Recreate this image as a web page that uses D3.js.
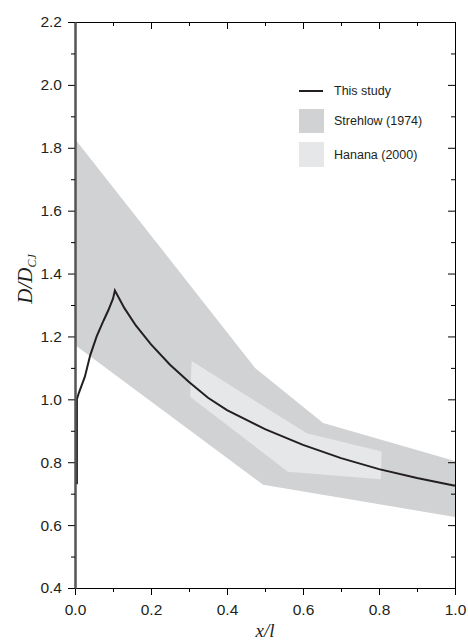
<!DOCTYPE html>
<html>
<head>
<meta charset="utf-8">
<script src="https://cdn.jsdelivr.net/npm/d3@7"></script>
<style>
  body { margin: 0; background: #fff; overflow: hidden; }
  svg { display: block; }
  text { font-family: "Liberation Sans", Arial, sans-serif; }
</style>
</head>
<body>
<svg id="drawing_region"></svg>
<script>
var width = 468;
var height = 641;
var margin = {top: 22, right: 13, bottom: 53, left: 75};

// data
const studyX = [0.005, 0.005, 0.01, 0.026, 0.04, 0.057, 0.075, 0.088, 0.1, 0.105, 0.13, 0.16, 0.2, 0.25, 0.3, 0.35, 0.4, 0.5, 0.6, 0.7, 0.8, 0.9, 1.0];
const studyY = [0.73, 1.0, 1.02, 1.072, 1.14, 1.2, 1.25, 1.284, 1.32, 1.346, 1.29, 1.235, 1.175, 1.11, 1.055, 1.005, 0.966, 0.905, 0.855, 0.813, 0.778, 0.75, 0.725];

const strehlowX = [0, 0.474, 0.653, 1.0, 1.0, 0.495, 0];
const strehlowY = [1.828, 1.10, 0.925, 0.804, 0.626, 0.728, 1.173];

const hananaX = [0.307, 0.61, 0.807, 0.805, 0.56, 0.303];
const hananaY = [1.122, 0.892, 0.834, 0.746, 0.77, 1.008];

const legendLabels = ['This study', 'Strehlow (1974)', 'Hanana (2000)'];
const xTicks = [0, 0.2, 0.4, 0.6, 0.8, 1.0];
const yTicks = [0.4, 0.6, 0.8, 1.0, 1.2, 1.4, 1.6, 1.8, 2.0, 2.2];
const minorX = [0.1, 0.3, 0.5, 0.7, 0.9];
const minorY = [0.5, 0.7, 0.9, 1.1, 1.3, 1.5, 1.7, 1.9, 2.1];

var svg = d3.select('#drawing_region')
      .attr('width', width)
      .attr('height', height);

var chart = svg.append('g')
      .attr('transform', `translate(${margin.left}, ${margin.top})`);

const innerWidth = width - margin.left - margin.right;
const innerHeight = height - margin.top - margin.bottom;

const xs = d3.scaleLinear().domain([0, 1]).range([0, innerWidth]);
const ys = d3.scaleLinear().domain([0.4, 2.2]).range([innerHeight, 0]);

const line = d3.line().x(d => xs(d[0])).y(d => ys(d[1]));

chart.append('path')
      .attr('d', line(strehlowX.map((x, i) => [x, strehlowY[i]])) + 'Z')
      .attr('fill', '#d1d2d4');

chart.append('path')
      .attr('d', line(hananaX.map((x, i) => [x, hananaY[i]])) + 'Z')
      .attr('fill', '#e6e7e8');

chart.append('path')
      .attr('d', line(studyX.map((x, i) => [x, studyY[i]])))
      .attr('stroke', '#231f20')
      .attr('stroke-width', 2)
      .attr('fill', 'none');

// bottom axis
const bottomAx = chart.append('g').attr('transform', `translate(0, ${innerHeight})`);
bottomAx.call(d3.axisBottom(xs).tickValues(xTicks).tickFormat(d3.format('.1f')).tickSize(7).tickPadding(9).tickSizeOuter(0));
bottomAx.append('g').call(d3.axisBottom(xs).tickValues(minorX).tickFormat('').tickSize(4).tickSizeOuter(0));

// top axis (ticks inward)
const topAx = chart.append('g');
topAx.call(d3.axisBottom(xs).tickValues(xTicks).tickFormat('').tickSize(7).tickSizeOuter(0));
topAx.append('g').call(d3.axisBottom(xs).tickValues(minorX).tickFormat('').tickSize(4).tickSizeOuter(0));

// right axis (ticks inward)
const rightAx = chart.append('g').attr('transform', `translate(${innerWidth}, 0)`);
rightAx.call(d3.axisLeft(ys).tickValues(yTicks).tickFormat('').tickSize(7).tickSizeOuter(0));
rightAx.append('g').call(d3.axisLeft(ys).tickValues(minorY).tickFormat('').tickSize(4).tickSizeOuter(0));

// left axis
const leftAx = chart.append('g');
leftAx.call(d3.axisLeft(ys).tickValues(yTicks).tickFormat(d3.format('.1f')).tickSize(7).tickPadding(6).tickSizeOuter(0));
leftAx.append('g').call(d3.axisLeft(ys).tickValues(minorY).tickFormat('').tickSize(4).tickSizeOuter(0));
leftAx.selectAll('.domain').attr('stroke', '#555').attr('stroke-width', 2);

// drop the empty labels of the tick-only axes
chart.selectAll('.tick text').filter(function() { return this.textContent === ''; }).remove();

chart.selectAll('.tick text')
      .style('font-family', '"Liberation Sans", Arial, sans-serif')
      .style('font-size', '15.5px')
      .attr('fill', '#231f20');

// axis titles
svg.append('text')
      .attr('transform', 'translate(32, 279) rotate(-90)')
      .attr('text-anchor', 'middle')
      .style('font-family', '"Liberation Serif", "Times New Roman", serif')
      .style('font-style', 'italic')
      .style('font-size', '21px')
      .attr('fill', '#231f20')
      .html('D/D<tspan font-size="12" dy="4">CJ</tspan>');

svg.append('text')
      .attr('x', 265)
      .attr('y', 637)
      .attr('text-anchor', 'middle')
      .style('font-family', '"Liberation Serif", "Times New Roman", serif')
      .style('font-style', 'italic')
      .style('font-size', '19px')
      .attr('fill', '#231f20')
      .text('x/l');

// legend
const legend = svg.append('g').attr('transform', 'translate(299, 91)');
legend.append('line')
      .attr('x1', 0).attr('x2', 24).attr('y1', 0).attr('y2', 0)
      .attr('stroke', '#231f20').attr('stroke-width', 2);
legend.append('rect').attr('x', 0).attr('y', 18).attr('width', 25).attr('height', 24).attr('fill', '#d1d2d4');
legend.append('rect').attr('x', 0).attr('y', 51).attr('width', 25).attr('height', 25).attr('fill', '#e6e7e8');
legend.selectAll('text.lbl')
      .data(legendLabels)
      .enter()
      .append('text')
      .attr('class', 'lbl')
      .attr('x', 35)
      .attr('y', (d, i) => [0, 30, 64][i])
      .attr('dy', '0.35em')
      .style('font-size', '12.5px')
      .attr('fill', '#231f20')
      .text(d => d);
</script>
</body>
</html>
